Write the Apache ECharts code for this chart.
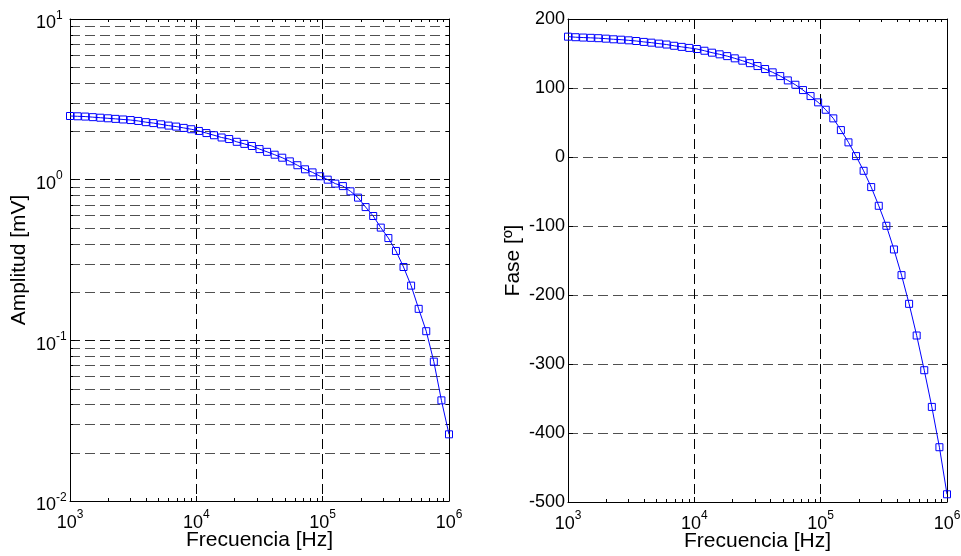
<!DOCTYPE html>
<html>
<head>
<meta charset="utf-8">
<script src="https://cdn.jsdelivr.net/npm/echarts@6/dist/echarts.min.js"></script>
<style>
html,body{margin:0;padding:0;background:#fff;}
#chart{width:961px;height:556px;}
</style>
</head>
<body>
<div id="chart"></div>
<script>
// ---- data ----
const freq = [1000, 1148, 1318, 1514, 1738, 1995, 2291, 2630, 3020, 3467, 3981, 4571, 5248, 6026, 6918, 7943, 9120,
  10471, 12023, 13804, 15849, 18197, 20893, 23988, 27542, 31623, 36308, 41687, 47863, 54954, 63096, 72444, 83176, 95499,
  109648, 125893, 144544, 165959, 190546, 218776, 251189, 288403, 331131, 380189, 436516, 501187, 575440, 660693, 758578, 870964, 1000000];
const amplitude = [2.49, 2.48, 2.47, 2.45, 2.43, 2.41, 2.39, 2.37, 2.35, 2.32, 2.28, 2.25, 2.21, 2.17, 2.14, 2.10, 2.06,
  2.01, 1.95, 1.89, 1.83, 1.79, 1.72, 1.67, 1.62, 1.55, 1.49, 1.43, 1.37, 1.30, 1.23, 1.16, 1.11, 1.05,
  1.00, 0.945, 0.912, 0.846, 0.773, 0.675, 0.594, 0.503, 0.433, 0.36, 0.286, 0.219, 0.157, 0.114, 0.0737, 0.0423, 0.026];
const phase = [174.4, 173.6, 173.1, 172.7, 172.2, 171.5, 170.6, 170.0, 169.1, 168.1, 166.8, 165.7, 164.3, 163.0, 161.2, 159.6, 158.1,
  156.5, 154.0, 151.2, 148.8, 146.2, 143.0, 139.6, 136.0, 131.8, 127.5, 122.7, 117.3, 111.0, 104.7, 97.0, 88.3,
  79.2, 68.5, 56.0, 39.0, 21.2, 1.3, -20.0, -43.6, -70.7, -99.7, -134.0, -171.2, -212.8, -258.7, -309.0, -362.2, -420.6, -488.8];
const xRange = [1e3, 1e6];
const ampRange = [1e-2, 1e1];
const phaseRange = [-500, 200];
const phaseStep = 100;
const minorMult = [2, 3, 4, 5, 6, 7, 8, 9];
const xDecades = [1e3, 1e4, 1e5];
const yDecades = [1e-2, 1e-1, 1e0];
const xLabel = 'Frecuencia [Hz]';
const ampLabel = 'Amplitud [mV]';
const phaseLabel = 'Fase [º]';

// ---- helpers ----
const xMinor = [];
xDecades.forEach(d => minorMult.forEach(m => xMinor.push(d * m)));
const yMinor = [];
yDecades.forEach(d => minorMult.forEach(m => yMinor.push(+(d * m).toPrecision(3))));

const FONT = 'Liberation Sans, Arial, Helvetica, sans-serif';
const TICK_FS = 18;
const NAME_FS = 21;
const blue = '#0000ff';
const DASH = [10, 5];

function powLabel(v) {
  const e = Math.round(Math.log10(v));
  return '{b|10}{e|' + e + '}';
}
const powRich = {
  b: { fontSize: TICK_FS, fontFamily: FONT, color: '#000' },
  e: { fontSize: 12, fontFamily: FONT, color: '#000', padding: [0, 0, 16, 0] }
};

const axisLineStyle = { show: true, onZero: false, lineStyle: { color: '#000', width: 1 } };

function xAxisPair(grid) {
  return [
    {
      type: 'log', logBase: 10, gridIndex: grid, min: xRange[0], max: xRange[1], position: 'bottom',
      axisLine: axisLineStyle,
      axisTick: { show: true, inside: true, length: 5, lineStyle: { color: '#000' } },
      axisLabel: { formatter: powLabel, rich: powRich, margin: 8, showMinLabel: true, showMaxLabel: true },
      splitLine: { show: true, lineStyle: { color: '#000', type: DASH, width: 1 } },
      name: xLabel, nameLocation: 'middle', nameGap: 29, nameMoveOverlap: false,
      nameTextStyle: { fontSize: NAME_FS, fontFamily: FONT, color: '#000' }
    },
    {
      type: 'log', logBase: 10, gridIndex: grid, min: xRange[0], max: xRange[1], position: 'top',
      axisLine: axisLineStyle,
      axisTick: { show: true, inside: true, length: 5, lineStyle: { color: '#000' } },
      axisLabel: { show: false }, splitLine: { show: false }
    }
  ];
}

const option = {
  animation: false,
  backgroundColor: '#fff',
  grid: [
    { left: 70, top: 19, width: 379, height: 482, containLabel: false, outerBoundsMode: 'none' },
    { left: 568, top: 19, width: 379, height: 483, containLabel: false, outerBoundsMode: 'none' }
  ],
  xAxis: [...xAxisPair(0), ...xAxisPair(1)],
  yAxis: [
    {
      type: 'log', logBase: 10, gridIndex: 0, min: ampRange[0], max: ampRange[1], position: 'left',
      axisLine: axisLineStyle,
      axisTick: { show: true, inside: true, length: 5, lineStyle: { color: '#000' } },
      axisLabel: { formatter: powLabel, rich: powRich, margin: 34, align: 'left', padding: [9, 0, 0, 0],
        showMinLabel: true, showMaxLabel: true },
      splitLine: { show: true, lineStyle: { color: '#111', type: DASH, width: 1 } },
      name: ampLabel, nameLocation: 'middle', nameGap: 40, nameMoveOverlap: false,
      nameTextStyle: { fontSize: NAME_FS, fontFamily: FONT, color: '#000' }
    },
    {
      type: 'log', logBase: 10, gridIndex: 0, min: ampRange[0], max: ampRange[1], position: 'right',
      axisLine: axisLineStyle,
      axisTick: { show: true, inside: true, length: 5, lineStyle: { color: '#000' } },
      axisLabel: { show: false }, splitLine: { show: false }
    },
    {
      type: 'value', gridIndex: 1, min: phaseRange[0], max: phaseRange[1], interval: phaseStep, position: 'left',
      axisLine: axisLineStyle,
      axisTick: { show: true, inside: true, length: 5, lineStyle: { color: '#000' } },
      axisLabel: { fontSize: TICK_FS, fontFamily: FONT, color: '#000', margin: 3 },
      splitLine: { show: true, lineStyle: { color: '#505050', type: DASH, width: 1 } },
      name: phaseLabel, nameLocation: 'middle', nameGap: 44, nameMoveOverlap: false,
      nameTextStyle: { fontSize: NAME_FS, fontFamily: FONT, color: '#000' }
    },
    {
      type: 'value', gridIndex: 1, min: phaseRange[0], max: phaseRange[1], interval: phaseStep, position: 'right',
      axisLine: axisLineStyle,
      axisTick: { show: true, inside: true, length: 5, lineStyle: { color: '#000' } },
      axisLabel: { show: false }, splitLine: { show: false }
    }
  ],
  series: [
    // minor ticks / minor grid, left panel
    {
      type: 'custom', xAxisIndex: 0, yAxisIndex: 0, z: 1, silent: true, clip: false,
      encode: { x: 0, y: 1 },
      data: xMinor.map(v => [v, 1, 0]).concat(yMinor.map(v => [xRange[0], v, 1])),
      renderItem: function (params, api) {
        const cs = params.coordSys;
        const kind = api.value(2);
        const st = { stroke: '#000', lineWidth: 1 };
        if (kind === 0) {
          const px = Math.round(api.coord([api.value(0), 1])[0]) + 0.5;
          const yb = cs.y + cs.height;
          return { type: 'group', children: [
            { type: 'line', shape: { x1: px, y1: yb, x2: px, y2: yb - 3 }, style: st },
            { type: 'line', shape: { x1: px, y1: cs.y, x2: px, y2: cs.y + 3 }, style: st }
          ] };
        }
        const py = Math.round(api.coord([xRange[0], api.value(1)])[1]) + 0.5;
        return { type: 'group', children: [
          { type: 'line', shape: { x1: cs.x, y1: py, x2: cs.x + cs.width, y2: py },
            style: { stroke: '#505050', lineWidth: 1, lineDash: DASH } },
          { type: 'line', shape: { x1: cs.x, y1: py, x2: cs.x + 3, y2: py }, style: st },
          { type: 'line', shape: { x1: cs.x + cs.width, y1: py, x2: cs.x + cs.width - 3, y2: py }, style: st }
        ] };
      }
    },
    // minor ticks, right panel
    {
      type: 'custom', xAxisIndex: 2, yAxisIndex: 2, z: 1, silent: true, clip: false,
      encode: { x: 0, y: 1 },
      data: xMinor.map(v => [v, 0]),
      renderItem: function (params, api) {
        const cs = params.coordSys;
        const st = { stroke: '#000', lineWidth: 1 };
        const px = Math.round(api.coord([api.value(0), 0])[0]) + 0.5;
        const yb = cs.y + cs.height;
        return { type: 'group', children: [
          { type: 'line', shape: { x1: px, y1: yb, x2: px, y2: yb - 3 }, style: st },
          { type: 'line', shape: { x1: px, y1: cs.y, x2: px, y2: cs.y + 3 }, style: st }
        ] };
      }
    },
    {
      type: 'line', xAxisIndex: 0, yAxisIndex: 0, z: 5,
      data: freq.map((f, i) => [f, amplitude[i]]),
      symbol: 'rect', symbolSize: 7, showSymbol: true,
      lineStyle: { color: blue, width: 1 },
      itemStyle: { color: 'rgba(0,0,0,0)', borderColor: blue, borderWidth: 1 }
    },
    {
      type: 'line', xAxisIndex: 2, yAxisIndex: 2, z: 5,
      data: freq.map((f, i) => [f, phase[i]]),
      symbol: 'rect', symbolSize: 7, showSymbol: true,
      lineStyle: { color: blue, width: 1 },
      itemStyle: { color: 'rgba(0,0,0,0)', borderColor: blue, borderWidth: 1 }
    }
  ]
};

const chart = echarts.init(document.getElementById('chart'), null, { renderer: 'canvas' });
chart.setOption(option);
</script>
</body>
</html>
